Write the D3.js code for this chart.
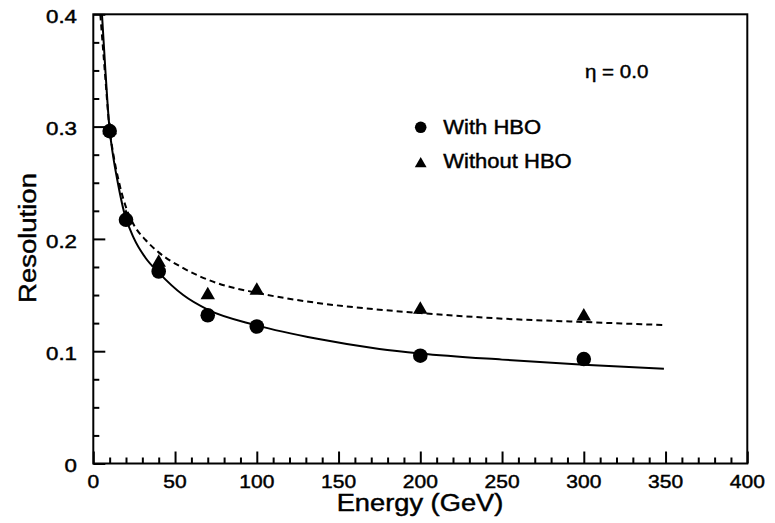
<!DOCTYPE html>
<html>
<head>
<meta charset="utf-8">
<script src="https://cdn.jsdelivr.net/npm/d3@7"></script>
<style>
  html, body { margin: 0; padding: 0; background: #fff; }
  svg { display: block; }
  text { font-family: "Liberation Sans", Arial, Helvetica, sans-serif; fill: #000; stroke: #000; stroke-width: 0.45px; }
</style>
</head>
<body>
<svg id="chart" width="775" height="523"></svg>
<script>
// Measured energies and resolutions
const energies = [10, 20, 40, 70, 100, 200, 300];
const withHBO = [0.296, 0.217, 0.171, 0.132, 0.122, 0.096, 0.093];
const withoutHBO = [0.297, 0.219, 0.179, 0.150, 0.154, 0.137, 0.131];

// Fitted resolution curves, sampled along energy
const fitWithE = [5.3, 7.4, 9.8, 12, 15, 18.8, 25, 32, 40, 55, 70, 100, 137, 175, 200, 250, 300, 349];
const fitWithV = [0.400, 0.350, 0.300, 0.275, 0.250, 0.224, 0.200, 0.183, 0.170, 0.150, 0.137, 0.123, 0.111, 0.102, 0.098, 0.0925, 0.088, 0.0844];
const fitWithoutE = [4.3, 7.0, 9.8, 12.3, 15.8, 20.5, 25, 32, 40, 55, 75, 100, 137, 175, 200, 250, 300, 349];
const fitWithoutV = [0.400, 0.350, 0.300, 0.275, 0.250, 0.226, 0.212, 0.199, 0.188, 0.174, 0.161, 0.152, 0.143, 0.137, 0.134, 0.129, 0.126, 0.1233];

// Axis ticks
const xMajor = [0, 50, 100, 150, 200, 250, 300, 350, 400];
const yMajor = [0, 0.1, 0.2, 0.3, 0.4];
const yLabels = ["0", "0.1", "0.2", "0.3", "0.4"];

const legendLabels = ["With HBO", "Without HBO"];
const etaLabel = "\u03B7 = 0.0";

const plot = { left: 93.3, right: 747.3, top: 14.3, bottom: 463.5 };
const svg = d3.select("#chart");

const x = d3.scaleLinear().domain([0, 400]).range([plot.left, plot.right]);
const y = d3.scaleLinear().domain([0, 0.4]).range([plot.bottom, plot.top]);

// stretch text horizontally to the wide grotesque look
function widen(sel, f) {
  sel.each(function () {
    const w = this.getComputedTextLength();
    d3.select(this).attr("textLength", w * f).attr("lengthAdjust", "spacingAndGlyphs");
  });
}

// minor ticks
const xMinor = d3.range(0, 401, 10).filter(v => v % 50 !== 0);
const yMinor = d3.range(0, 16).map(i => i * 0.025).filter((v, i) => i % 4 !== 0);

function tickGroup(axis, transform) {
  svg.append("g")
    .attr("transform", transform)
    .call(axis.tickFormat(""))
    .call(g => g.select(".domain").remove())
    .selectAll("line").attr("stroke", "#000").attr("stroke-width", 2);
}
tickGroup(d3.axisBottom(x).tickValues(xMinor).tickSize(-6), `translate(0,${plot.bottom})`);
tickGroup(d3.axisBottom(x).tickValues(xMajor).tickSize(-12), `translate(0,${plot.bottom})`);
tickGroup(d3.axisLeft(y).tickValues(yMinor).tickSize(-6), `translate(${plot.left},0)`);
tickGroup(d3.axisLeft(y).tickValues(yMajor).tickSize(-12), `translate(${plot.left},0)`);

// frame
svg.append("rect")
  .attr("x", plot.left).attr("y", plot.top)
  .attr("width", plot.right - plot.left).attr("height", plot.bottom - plot.top)
  .attr("fill", "none").attr("stroke", "#000").attr("stroke-width", 2);

// tick labels
svg.append("g").selectAll("text").data(xMajor).join("text")
  .attr("x", d => x(d)).attr("y", plot.bottom + 24.5)
  .attr("text-anchor", "middle").attr("font-size", 18.6)
  .text(d => d)
  .call(widen, 1.13);

svg.append("g").selectAll("text").data(yMajor).join("text")
  .attr("x", 77).attr("y", d => y(d) + 8.7)
  .attr("text-anchor", "end").attr("font-size", 18.6)
  .text((d, i) => yLabels[i])
  .call(widen, 1.2);

// axis titles
svg.append("text")
  .attr("x", 420).attr("y", 510.5)
  .attr("text-anchor", "middle").attr("font-size", 23.3)
  .text("Energy (GeV)")
  .call(widen, 1.17);
svg.append("text")
  .attr("transform", "translate(36,238) rotate(-90)")
  .attr("text-anchor", "middle").attr("font-size", 23.3)
  .text("Resolution")
  .call(widen, 1.18);

// fitted curves
const line = d3.line().x(d => x(d[0])).y(d => y(d[1])).curve(d3.curveMonotoneX);
svg.append("path")
  .datum(d3.zip(fitWithoutE, fitWithoutV))
  .attr("d", line).attr("fill", "none").attr("stroke", "#000")
  .attr("stroke-width", 2).attr("stroke-dasharray", "6,4");
svg.append("path")
  .datum(d3.zip(fitWithE, fitWithV))
  .attr("d", line).attr("fill", "none").attr("stroke", "#000")
  .attr("stroke-width", 2);

// markers
const tri = d3.symbol().type(d3.symbolTriangle);
svg.append("g").selectAll("path").data(d3.zip(energies, withoutHBO)).join("path")
  .attr("transform", d => `translate(${x(d[0])},${y(d[1])})`)
  .attr("d", tri.size(90)()).attr("fill", "#000");
svg.append("g").selectAll("circle").data(d3.zip(energies, withHBO)).join("circle")
  .attr("cx", d => x(d[0])).attr("cy", d => y(d[1]))
  .attr("r", 7.3).attr("fill", "#000");

// legend
svg.append("circle").attr("cx", 420.7).attr("cy", 127.3).attr("r", 5.8).attr("fill", "#000");
svg.append("path")
  .attr("transform", "translate(420.7,163.8)")
  .attr("d", d3.symbol().type(d3.symbolTriangle).size(60)()).attr("fill", "#000");
svg.append("g").selectAll("text").data(legendLabels).join("text")
  .attr("x", 443.3).attr("y", (d, i) => i === 0 ? 134.3 : 168.3)
  .attr("font-size", 20)
  .text(d => d)
  .call(widen, 1.1);

svg.append("text")
  .attr("x", 585).attr("y", 78.3).attr("font-size", 19)
  .text(etaLabel)
  .call(widen, 1.08);
</script>
</body>
</html>
